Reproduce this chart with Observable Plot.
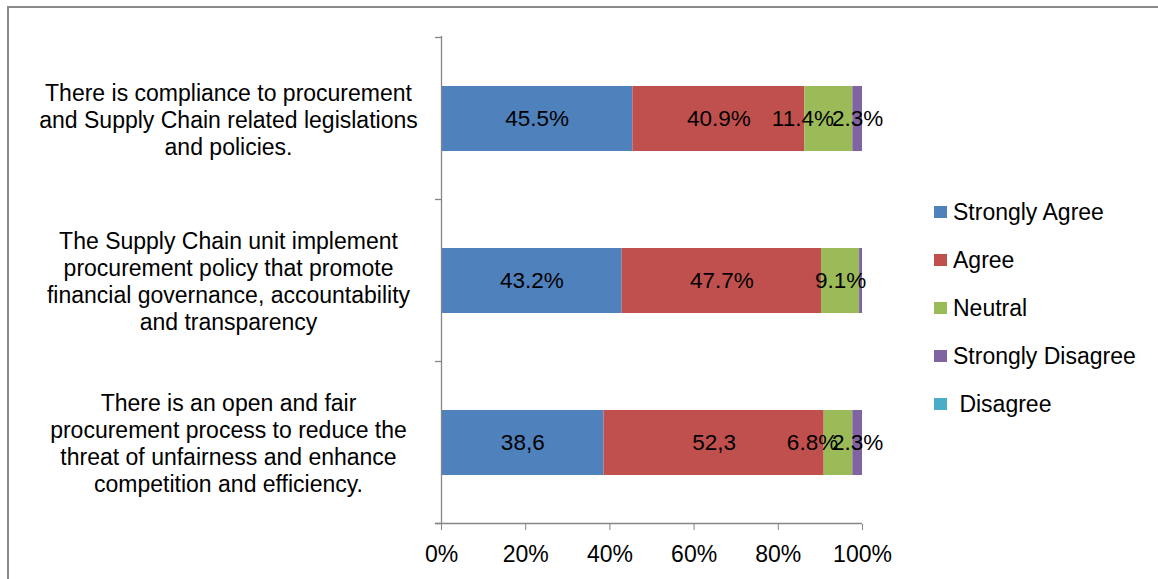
<!DOCTYPE html>
<html>
<head>
<meta charset="utf-8">
<script src="https://cdn.jsdelivr.net/npm/d3@7"></script>
<script src="https://cdn.jsdelivr.net/npm/@observablehq/plot@0.6"></script>
<style>
  body { margin: 0; background: #fff; font-family: "Liberation Sans", Arial, sans-serif; }
  #wrap { position: relative; width: 1158px; height: 579px; overflow: hidden; }
  #border { position: absolute; left: 7px; top: 6px; width: 1300px; height: 700px;
            border-left: 2px solid #898989; border-top: 2px solid #898989; pointer-events: none; }
  #chart { position: absolute; left: 0; top: 0; }
  #legend { position: absolute; left: 934px; top: 188px; font-size: 23px; color: #000; }
  .row { height: 48px; display: flex; align-items: center; white-space: pre; }
  .sw { width: 13px; height: 12px; margin-right: 6px; flex: none; }
</style>
</head>
<body>
<div id="wrap">
  <div id="chart"></div>
  <div id="legend"></div>
  <div id="border"></div>
</div>
<script>
// ---- data ----
const categories = [
  "There is compliance to procurement\nand Supply Chain related legislations\nand policies.",
  "The Supply Chain unit implement\nprocurement policy that promote\nfinancial governance, accountability\nand transparency",
  "There is an open and fair\nprocurement process to reduce the\nthreat of unfairness and enhance\ncompetition and efficiency."
];
const series = ["Strongly Agree", "Agree", "Neutral", "Strongly Disagree", "Disagree"];
const legendLabels = ["Strongly Agree", "Agree", "Neutral", "Strongly Disagree", " Disagree"];
const colors = ["#4F81BD", "#C0504D", "#9BBB59", "#8064A2", "#4BACC6"];

const stronglyAgree    = [45.5, 43.2, 38.6];
const agree            = [40.9, 47.7, 52.3];
const neutral          = [11.4, 9.1, 6.8];
const stronglyDisagree = [2.3, 0.7, 2.3];
const disagree         = [0, 0, 0];

const stronglyAgreeLabels    = ["45.5%", "43.2%", "38,6"];
const agreeLabels            = ["40.9%", "47.7%", "52,3"];
const neutralLabels          = ["11.4%", "9.1%", "6.8%"];
const stronglyDisagreeLabels = ["2.3%", "", "2.3%"];
const disagreeLabels         = ["", "", ""];

const xTicks = [0, 0.2, 0.4, 0.6, 0.8, 1];

// ---- table ----
const seriesValues = [stronglyAgree, agree, neutral, stronglyDisagree, disagree];
const seriesLabels = [stronglyAgreeLabels, agreeLabels, neutralLabels, stronglyDisagreeLabels, disagreeLabels];
const rows = [];
categories.forEach((c, i) => {
  series.forEach((s, k) => {
    const lab = seriesLabels[k][i];
    // Neutral labels moved left where a Strongly Disagree label follows (as in the original)
    const shifted = s === "Neutral" && stronglyDisagreeLabels[i] !== "";
    rows.push({category: c, series: s, value: seriesValues[k][i], label: lab === "" ? null : lab, shifted});
  });
});

const chart = Plot.plot({
  width: 1158,
  height: 579,
  marginLeft: 441,
  marginRight: 296,
  marginTop: 36,
  marginBottom: 55,
  style: {fontFamily: "'Liberation Sans', Arial, sans-serif", background: "transparent", color: "#000"},
  x: {domain: [0, 1], axis: null},
  y: {domain: categories, paddingInner: 0.6, paddingOuter: 0.3, axis: null},
  color: {domain: series, range: colors},
  marks: [
    Plot.barX(rows, Plot.stackX({x: "value", y: "category", fill: "series", z: "series", offset: "normalize"})),
    Plot.text(rows, Plot.stackX({x: "value", y: "category", z: "series", offset: "normalize",
      text: d => d.shifted ? null : d.label, fontSize: 22.5, fill: "#000"})),
    Plot.text(rows, Plot.stackX({x: "value", y: "category", z: "series", offset: "normalize",
      text: d => d.shifted ? d.label : null, fontSize: 22.5, fill: "#000", dx: -26})),
    Plot.text(categories, {y: d => d, text: d => d, frameAnchor: "left", dx: -213,
      textAnchor: "middle", lineAnchor: "middle", lineHeight: 1.17, fontSize: 23, fill: "#000"}),
    Plot.ruleX([0], {stroke: "#868686", strokeWidth: 1.3}),
    Plot.axisX({ticks: xTicks, tickFormat: d3.format(".0%"), tickSize: 6, tickPadding: 15,
      fontSize: 23, stroke: "#868686", fill: "#000", label: null})
  ]
});

document.getElementById("chart").appendChild(chart);

// axis line and category boundary ticks, derived from the plot's scales
const xs = chart.scale("x"), ys = chart.scale("y");
const x0 = xs.apply(0), x1 = xs.apply(1);
const step = ys.step ?? ys.bandwidth / (1 - ys.paddingInner);
const gap = (step - ys.bandwidth) / 2;
const bounds = categories.map(c => ys.apply(c) - gap);
bounds.push(ys.apply(categories[categories.length - 1]) + ys.bandwidth + gap);
const g = d3.select(chart).append("g").attr("stroke", "#868686").attr("stroke-width", 1.3);
g.append("line").attr("x1", x0 - 6).attr("x2", x1).attr("y1", bounds[bounds.length - 1]).attr("y2", bounds[bounds.length - 1]);
g.selectAll("line.b").data(bounds).join("line").attr("class", "b")
  .attr("x1", x0 - 6).attr("x2", x0).attr("y1", d => d).attr("y2", d => d);

// legend
const legend = d3.select("#legend");
series.forEach((s, k) => {
  const r = legend.append("div").attr("class", "row");
  r.append("div").attr("class", "sw").style("background", colors[k]);
  r.append("span").text(legendLabels[k]);
});
</script>
</body>
</html>
